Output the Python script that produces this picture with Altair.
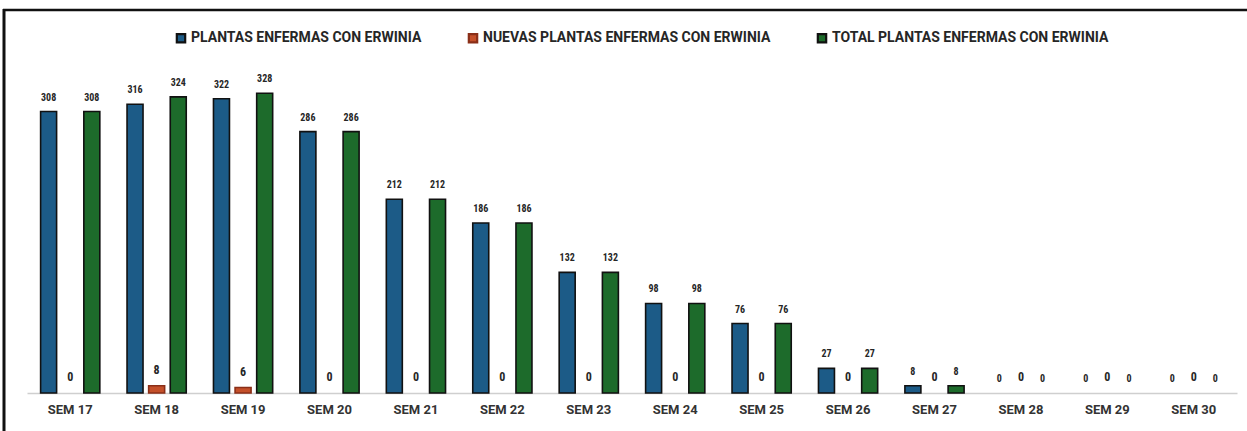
import altair as alt
import pandas as pd

# Semanas de muestreo y conteos por serie
semanas = ["SEM 17", "SEM 18", "SEM 19", "SEM 20", "SEM 21", "SEM 22", "SEM 23",
           "SEM 24", "SEM 25", "SEM 26", "SEM 27", "SEM 28", "SEM 29", "SEM 30"]
plantas_enfermas = [308, 316, 322, 286, 212, 186, 132, 98, 76, 27, 8, 0, 0, 0]
nuevas_enfermas = [0, 8, 6, 0, 0, 0, 0, 0, 0, 0, 0, 0, 0, 0]
total_enfermas = [308, 324, 328, 286, 212, 186, 132, 98, 76, 27, 8, 0, 0, 0]

series = ["PLANTAS ENFERMAS CON ERWINIA",
          "NUEVAS PLANTAS ENFERMAS CON ERWINIA",
          "TOTAL PLANTAS ENFERMAS CON ERWINIA"]
rellenos = ["#1c5b87", "#c4502a", "#1d6b2b"]
bordes = ["#111111", "#8a2f18", "#111111"]

filas = []
for nombre, valores in zip(series, [plantas_enfermas, nuevas_enfermas, total_enfermas]):
    for sem, v in zip(semanas, valores):
        filas.append({"semana": sem, "serie": nombre, "valor": v,
                      "grande": nombre == series[1]})
df = pd.DataFrame(filas)

x_enc = alt.X("semana:N", sort=semanas, title=None,
              scale=alt.Scale(paddingInner=0.25, paddingOuter=0.125),
              axis=alt.Axis(labelAngle=0, labelFont="Roboto", labelFontWeight="bold",
                            labelFontSize=13, labelColor="#333333", labelPadding=10,
                            ticks=False, domainColor="#cfcfcf", domainWidth=1.5))
xoff = alt.XOffset("serie:N", sort=series, scale=alt.Scale(paddingInner=0.26, paddingOuter=0.13))
y_enc = alt.Y("valor:Q", title=None, scale=alt.Scale(domain=[0, 360]), axis=None)

leyenda = dict(orient="none", legendX=147, legendY=-33, direction="horizontal",
               symbolType="square", symbolSize=70, symbolStrokeWidth=2.2,
               labelFont="Roboto", labelFontWeight="bold", labelFontSize=14,
               labelColor="#262626", labelLimit=0, columnPadding=42, labelOffset=3)

barras = alt.Chart(df).mark_bar(strokeWidth=1.6).encode(
    x=x_enc, xOffset=xoff, y=y_enc,
    fill=alt.Fill("serie:N", sort=series, title=None,
                  scale=alt.Scale(domain=series, range=rellenos),
                  legend=alt.Legend(**leyenda)),
    stroke=alt.Stroke("serie:N", sort=series, title=None,
                      scale=alt.Scale(domain=series, range=bordes),
                      legend=alt.Legend(**leyenda)),
    strokeOpacity=alt.condition(alt.datum.valor > 0, alt.value(1), alt.value(0)),
)

etiquetas = alt.Chart(df).mark_text(
    baseline="bottom", dy=-9, font="Liberation Sans Narrow, Roboto Condensed, Roboto",
    fontWeight="bold", color="#262626"
).encode(
    x=x_enc, xOffset=xoff, y=y_enc,
    text=alt.Text("valor:Q"),
    size=alt.condition(alt.datum.grande, alt.value(12), alt.value(10)),
)

# Marco del recuadro: borde superior e izquierdo
marco = alt.Chart(pd.DataFrame({"k": [0]}))
borde_sup = marco.mark_rule(color="#111111", strokeWidth=2.5).encode(
    x=alt.value(-24), x2=alt.value(1225), y=alt.value(-54))
borde_izq = marco.mark_rule(color="#111111", strokeWidth=3).encode(
    x=alt.value(-23), y=alt.value(-55), y2=alt.value(370))

chart = alt.layer(barras, etiquetas, borde_sup, borde_izq).properties(
    width=1210, height=329,
    padding={"left": 27, "top": 64, "right": 10, "bottom": 38},
    autosize=alt.AutoSizeParams(type="none"),
    background="white",
).configure_view(stroke=None)

chart.save("out.html", embed_options={"renderer": "svg", "actions": False})
